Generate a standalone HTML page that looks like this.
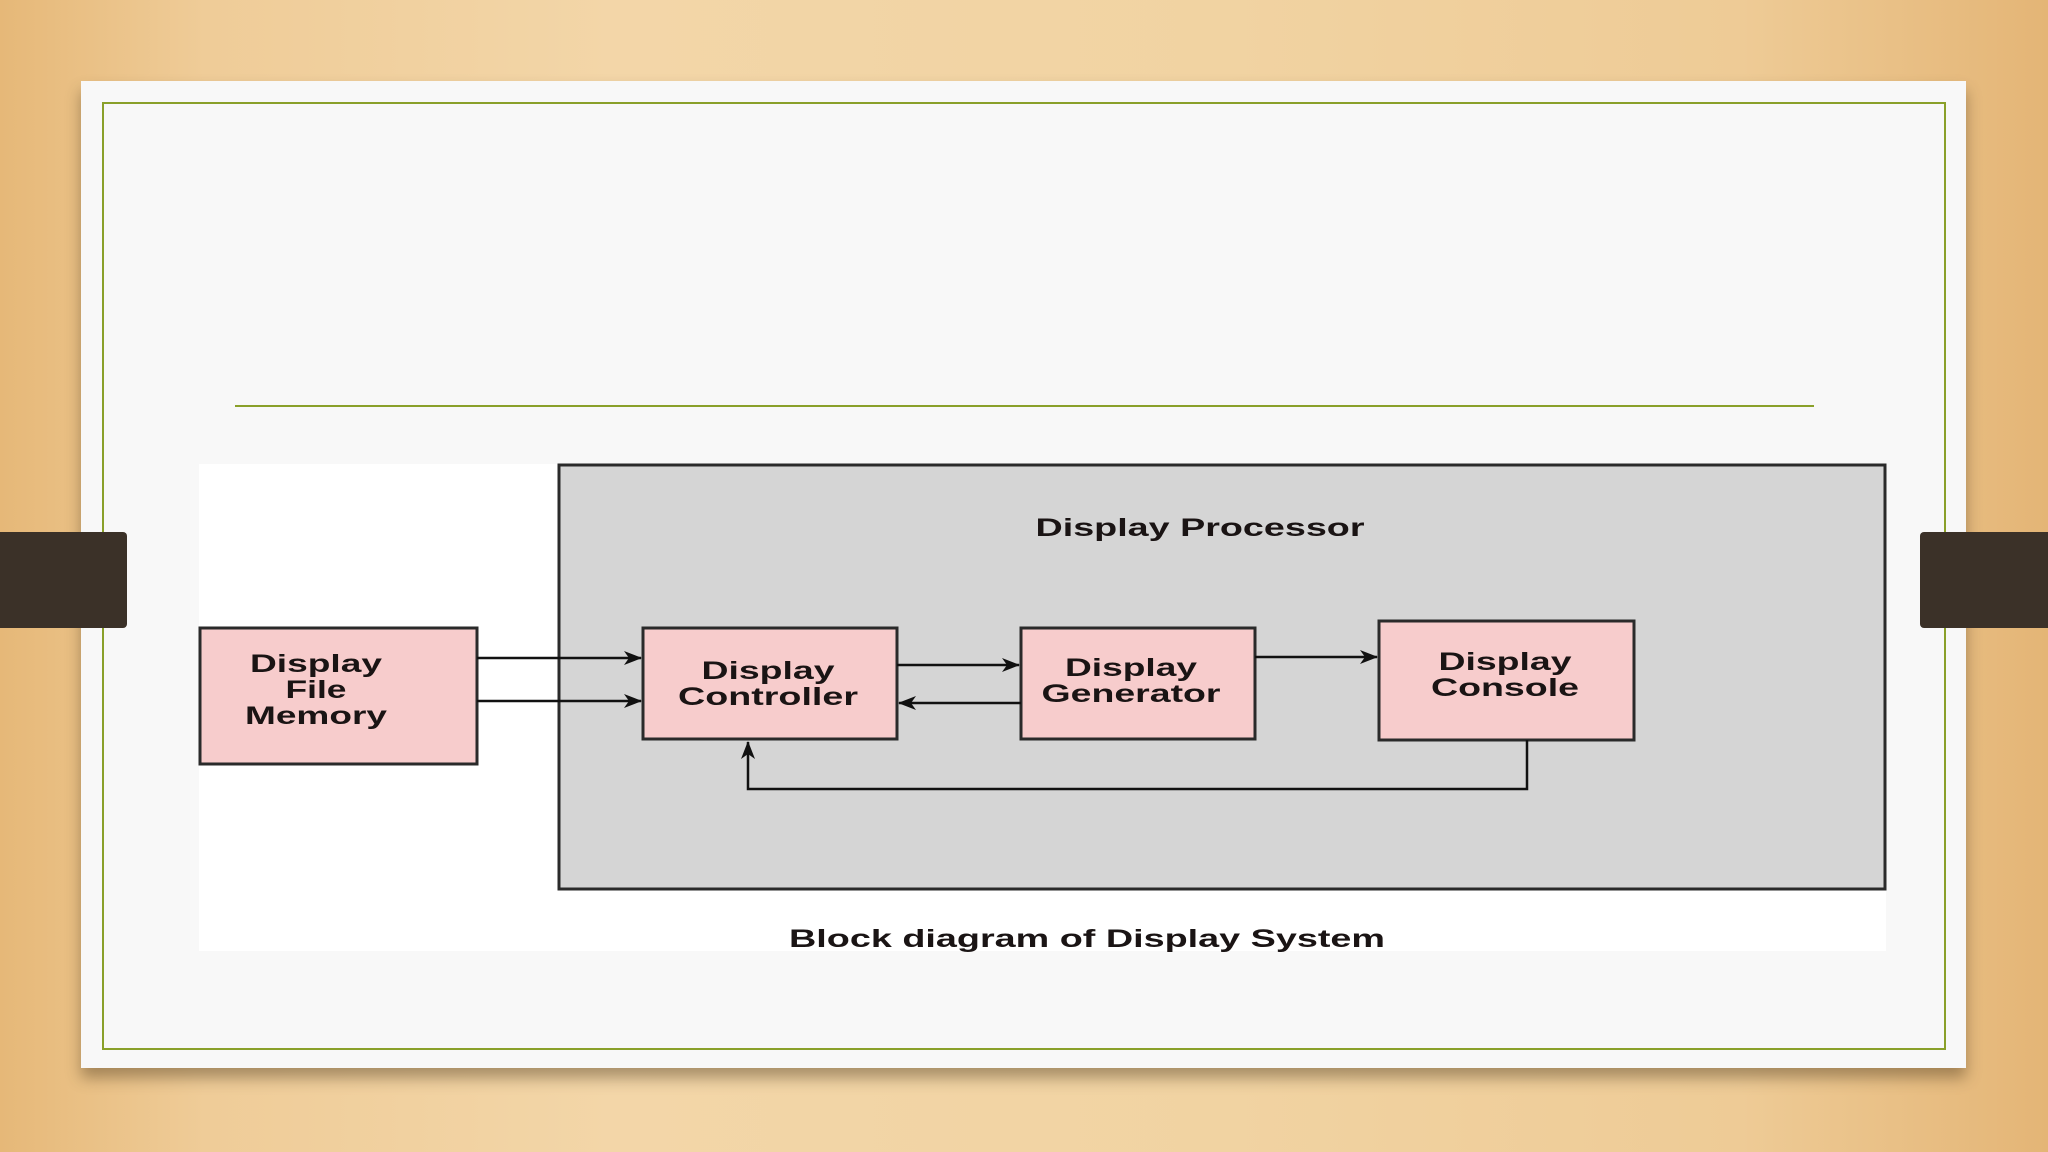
<!DOCTYPE html>
<html><head><meta charset="utf-8"><style>
html,body{margin:0;padding:0}
body{width:2048px;height:1152px;position:relative;overflow:hidden;
background:linear-gradient(90deg,#e6b878 0%,#efcc98 10%,#f3d6a8 30%,#f1d3a2 60%,#eecb96 85%,#e4b576 100%);
font-family:"Liberation Sans",Arial,sans-serif}
.card{position:absolute;left:81px;top:81px;width:1885px;height:987px;background:#f8f8f8;box-shadow:0 10px 14px rgba(80,60,30,.45)}
.inner{position:absolute;left:102px;top:102px;width:1840px;height:944px;border:2px solid #8aa02a}
.hl{position:absolute;left:235px;top:405px;width:1579px;height:2px;background:#8aa02a}
.tab{position:absolute;top:532px;height:96px;background:#3b3128}
.dw{position:absolute;left:199px;top:464px;width:1687px;height:487px;background:#fff}
svg{position:absolute;left:0;top:0}
text{font-family:"Liberation Sans",Arial,sans-serif;font-weight:bold;fill:#1a1414}
</style></head><body>
<div class="card"></div>
<div class="inner"></div>
<div class="hl"></div>
<div class="tab" style="left:0;width:127px;border-radius:0 4px 4px 0"></div>
<div class="tab" style="left:1920px;width:128px;border-radius:4px 0 0 4px"></div>
<div class="dw"></div>
<svg width="2048" height="1152" viewBox="0 0 2048 1152">
<defs><marker id="a" markerWidth="18" markerHeight="14" refX="17" refY="7" orient="auto" markerUnits="userSpaceOnUse"><path d="M0,0 L18,7 L0,14 L5,7 z" fill="#111"/></marker></defs>
<rect x="559" y="465" width="1326" height="424" fill="#d5d5d5" stroke="#2a2a2a" stroke-width="3"/>
<text x="1200" y="536" font-size="25" text-anchor="middle" textLength="329" lengthAdjust="spacingAndGlyphs">Display Processor</text>
<g fill="#f7cccc" stroke="#2a2a2a" stroke-width="3">
<rect x="200" y="628" width="277" height="136"/>
<rect x="643" y="628" width="254" height="111"/>
<rect x="1021" y="628" width="234" height="111"/>
<rect x="1379" y="621" width="255" height="119"/>
</g>
<g font-size="25" text-anchor="middle">
<text x="316" y="672" textLength="132" lengthAdjust="spacingAndGlyphs">Display</text>
<text x="316" y="698" textLength="61" lengthAdjust="spacingAndGlyphs">File</text>
<text x="316" y="724" textLength="142" lengthAdjust="spacingAndGlyphs">Memory</text>
<text x="768" y="679" textLength="133" lengthAdjust="spacingAndGlyphs">Display</text>
<text x="768" y="705" textLength="180" lengthAdjust="spacingAndGlyphs">Controller</text>
<text x="1131" y="676" textLength="132" lengthAdjust="spacingAndGlyphs">Display</text>
<text x="1131" y="702" textLength="179" lengthAdjust="spacingAndGlyphs">Generator</text>
<text x="1505" y="670" textLength="133" lengthAdjust="spacingAndGlyphs">Display</text>
<text x="1505" y="696" textLength="148" lengthAdjust="spacingAndGlyphs">Console</text>
</g>
<g stroke="#111" stroke-width="2.5" fill="none" marker-end="url(#a)">
<line x1="477" y1="658" x2="641" y2="658"/>
<line x1="477" y1="701" x2="641" y2="701"/>
<line x1="897" y1="665" x2="1019" y2="665"/>
<line x1="1021" y1="703" x2="899" y2="703"/>
<line x1="1255" y1="657" x2="1377" y2="657"/>
<polyline points="1527,740 1527,789 748,789 748,742"/>
</g>
<text x="1087" y="947" font-size="25" text-anchor="middle" textLength="596" lengthAdjust="spacingAndGlyphs">Block diagram of Display System</text>
</svg>
</body></html>
